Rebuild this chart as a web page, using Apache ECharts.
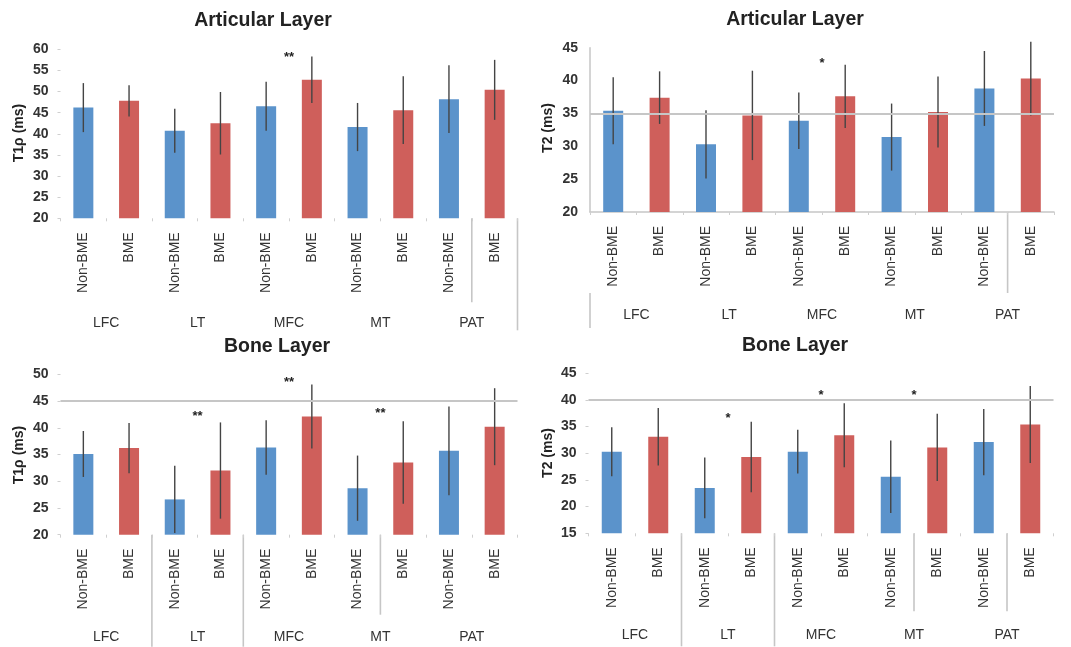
<!DOCTYPE html>
<html>
<head>
<meta charset="utf-8">
<script src="https://cdn.jsdelivr.net/npm/echarts@6/dist/echarts.min.js"></script>
<style>
  html, body { margin: 0; padding: 0; background: #fff; }
  #chart { width: 1071px; height: 647px; }
</style>
</head>
<body>
<div id="chart"></div>
<script>
// categories
var groups = ['LFC', 'LT', 'MFC', 'MT', 'PAT'];
var cats = ['Non-BME', 'BME', 'Non-BME', 'BME', 'Non-BME', 'BME', 'Non-BME', 'BME', 'Non-BME', 'BME'];

// articular layer, T1rho
var artT1pMean = [46.2, 47.8, 40.7, 42.5, 46.5, 52.8, 41.6, 45.6, 48.2, 50.4];
var artT1pSd   = [5.8, 3.7, 5.2, 7.4, 5.8, 5.5, 5.7, 8.0, 8.0, 7.1];
var artT1pSig  = [[2, 58.6, '**']];
// articular layer, T2
var artT2Mean = [35.4, 37.4, 30.3, 34.7, 33.9, 37.6, 31.4, 35.2, 38.8, 40.3];
var artT2Sd   = [5.1, 4.0, 5.2, 6.8, 4.3, 4.8, 5.1, 5.4, 5.7, 5.6];
var artT2Sig  = [[2, 43.0, '*']];
// bone layer, T1rho
var boneT1pMean = [35.1, 36.2, 26.6, 32.0, 36.3, 42.1, 28.7, 33.5, 35.7, 40.2];
var boneT1pSd   = [4.3, 4.7, 6.3, 9.0, 5.1, 6.0, 6.1, 7.7, 8.3, 7.2];
var boneT1pSig  = [[1, 42.6, '**'], [2, 49.0, '**'], [3, 43.2, '**']];
// bone layer, T2
var boneT2Mean = [30.3, 33.1, 23.5, 29.3, 30.3, 33.4, 25.6, 31.1, 32.1, 35.4];
var boneT2Sd   = [4.6, 5.4, 5.7, 6.6, 4.1, 6.0, 6.8, 6.3, 6.2, 7.2];
var boneT2Sig  = [[1, 37.0, '*'], [2, 41.4, '*'], [3, 41.4, '*']];

var BLUE = '#5b93cb', RED = '#cf5f5b', LINE = '#c6c6c6', FONT = 'Liberation Sans';

var panels = [
  { title: 'Articular Layer', yName: 'T1\u03c1 (ms)', mean: artT1pMean, sd: artT1pSd, sig: artT1pSig,
    min: 20, max: 60, grid: { left: 60.5, top: 49.3, width: 457, height: 169 },
    titlePos: [263, 21], namePos: [19, 133], groupOffset: 104.7, ref: null, axisLine: false,
    seps: [[9, 0, 84], [10, 0, 112]] },
  { title: 'Articular Layer', yName: 'T2 (ms)', mean: artT2Mean, sd: artT2Sd, sig: artT2Sig,
    min: 20, max: 45, grid: { left: 590, top: 47.7, width: 464, height: 164.3 },
    titlePos: [795, 20], namePos: [548, 128], groupOffset: 103, ref: 35, axisLine: true,
    seps: [[9, 0, 81], [0, 81, 116]] },
  { title: 'Bone Layer', yName: 'T1\u03c1 (ms)', mean: boneT1pMean, sd: boneT1pSd, sig: boneT1pSig,
    min: 20, max: 50, grid: { left: 60.5, top: 374.3, width: 457, height: 160.4 },
    titlePos: [277, 347], namePos: [19, 455], groupOffset: 102, ref: 45, axisLine: false,
    seps: [[2, 0, 112], [4, 0, 112], [7, 0, 80]] },
  { title: 'Bone Layer', yName: 'T2 (ms)', mean: boneT2Mean, sd: boneT2Sd, sig: boneT2Sig,
    min: 15, max: 45, grid: { left: 588.5, top: 373.3, width: 465, height: 160 },
    titlePos: [795, 346], namePos: [548, 453], groupOffset: 101.7, ref: 40, axisLine: true && false,
    seps: [[2, 0, 113], [4, 0, 113], [7, 0, 78], [9, 0, 78]] }
];

var grids = [], xAxes = [], yAxes = [], series = [], graphics = [];

panels.forEach(function (p, k) {
  grids.push(p.grid);
  xAxes.push({
    type: 'category', gridIndex: k, data: cats,
    axisLine: { show: p.axisLine, lineStyle: { color: LINE, width: 1.5 } },
    axisTick: { show: true, length: 3, lineStyle: { color: '#cfcfcf' } },
    axisLabel: { interval: 0, rotate: 90, margin: 14, fontSize: 14, color: '#333', fontFamily: FONT }
  });
  yAxes.push({
    type: 'value', gridIndex: k, min: p.min, max: p.max, interval: 5,
    axisLine: { show: p.axisLine, lineStyle: { color: LINE, width: 1.5 } },
    axisTick: { show: !p.axisLine, length: 3, lineStyle: { color: '#cfcfcf' } },
    splitLine: { show: false },
    axisLabel: { margin: 12, fontSize: 14, fontWeight: 'bold', color: '#333', fontFamily: FONT }
  });

  var meanData = p.mean.map(function (v, i) {
    return { value: v, itemStyle: { color: i % 2 ? RED : BLUE } };
  });
  series.push({
    type: 'bar', xAxisIndex: k, yAxisIndex: k, data: meanData, barWidth: 20, z: 2
  });
  // error bars
  series.push({
    type: 'custom', xAxisIndex: k, yAxisIndex: k, z: 3,
    data: p.mean.map(function (v, i) { return [i, v, p.sd[i]]; }),
    renderItem: function (params, api) {
      var hi = api.coord([api.value(0), api.value(1) + api.value(2)]);
      var lo = api.coord([api.value(0), api.value(1) - api.value(2)]);
      return { type: 'line', shape: { x1: hi[0], y1: hi[1], x2: lo[0], y2: lo[1] },
               style: { stroke: '#444', lineWidth: 1.4 } };
    }
  });
  // significance marks, centred on the group
  series.push({
    type: 'custom', xAxisIndex: k, yAxisIndex: k, z: 4,
    data: p.sig.map(function (s) { return [s[0] * 2, s[1], s[0] * 2 + 1, s[2]]; }),
    renderItem: function (params, api) {
      var a = api.coord([api.value(0), api.value(1)]);
      var b = api.coord([api.value(2), api.value(1)]);
      return { type: 'text', x: (a[0] + b[0]) / 2, y: a[1] - 4,
               style: { text: p.sig[params.dataIndex][2], textAlign: 'center', textVerticalAlign: 'top',
                        font: 'bold 13px "Liberation Sans"', fill: '#222' } };
    }
  });
  // the one visible gridline
  if (p.ref !== null) {
    series.push({
      type: 'line', xAxisIndex: k, yAxisIndex: k, data: [], z: 1,
      markLine: { silent: true, symbol: 'none', label: { show: false },
                  lineStyle: { color: LINE, width: 1.8, type: 'solid' },
                  data: [{ yAxis: p.ref }] }
    });
  }

  graphics.push({
    type: 'text', x: p.titlePos[0], y: p.titlePos[1],
    style: { text: p.title, textAlign: 'center', textVerticalAlign: 'middle',
             font: 'bold 19.5px "Liberation Sans"', fill: '#222' }
  });
  graphics.push({
    type: 'text', x: p.namePos[0], y: p.namePos[1], rotation: Math.PI / 2,
    style: { text: p.yName, textAlign: 'center', textVerticalAlign: 'middle',
             font: 'bold 14px "Liberation Sans"', fill: '#222' }
  });
});

// group label axes
panels.forEach(function (p, k) {
  xAxes.push({
    type: 'category', gridIndex: k, data: groups, position: 'bottom', offset: p.groupOffset,
    axisLine: { show: false }, axisTick: { show: false },
    axisLabel: { interval: 0, margin: 0, verticalAlign: 'middle', fontSize: 14, color: '#333', fontFamily: FONT }
  });
});

var chart = echarts.init(document.getElementById('chart'));
chart.setOption({
  animation: false,
  textStyle: { fontFamily: FONT },
  grid: grids, xAxis: xAxes, yAxis: yAxes, series: series, graphic: graphics
});

// group separators below the category axis
panels.forEach(function (p, k) {
  var c0 = chart.convertToPixel({ xAxisIndex: k }, 0);
  var c1 = chart.convertToPixel({ xAxisIndex: k }, 1);
  var band = c1 - c0;
  var base = p.grid.top + p.grid.height;
  p.seps.forEach(function (s) {
    var x = c0 + (s[0] - 0.5) * band;
    graphics.push({
      type: 'line', shape: { x1: x, y1: base + s[1], x2: x, y2: base + s[2] },
      style: { stroke: LINE, lineWidth: 1.6 }
    });
  });
});
chart.setOption({ graphic: graphics });
</script>
</body>
</html>
